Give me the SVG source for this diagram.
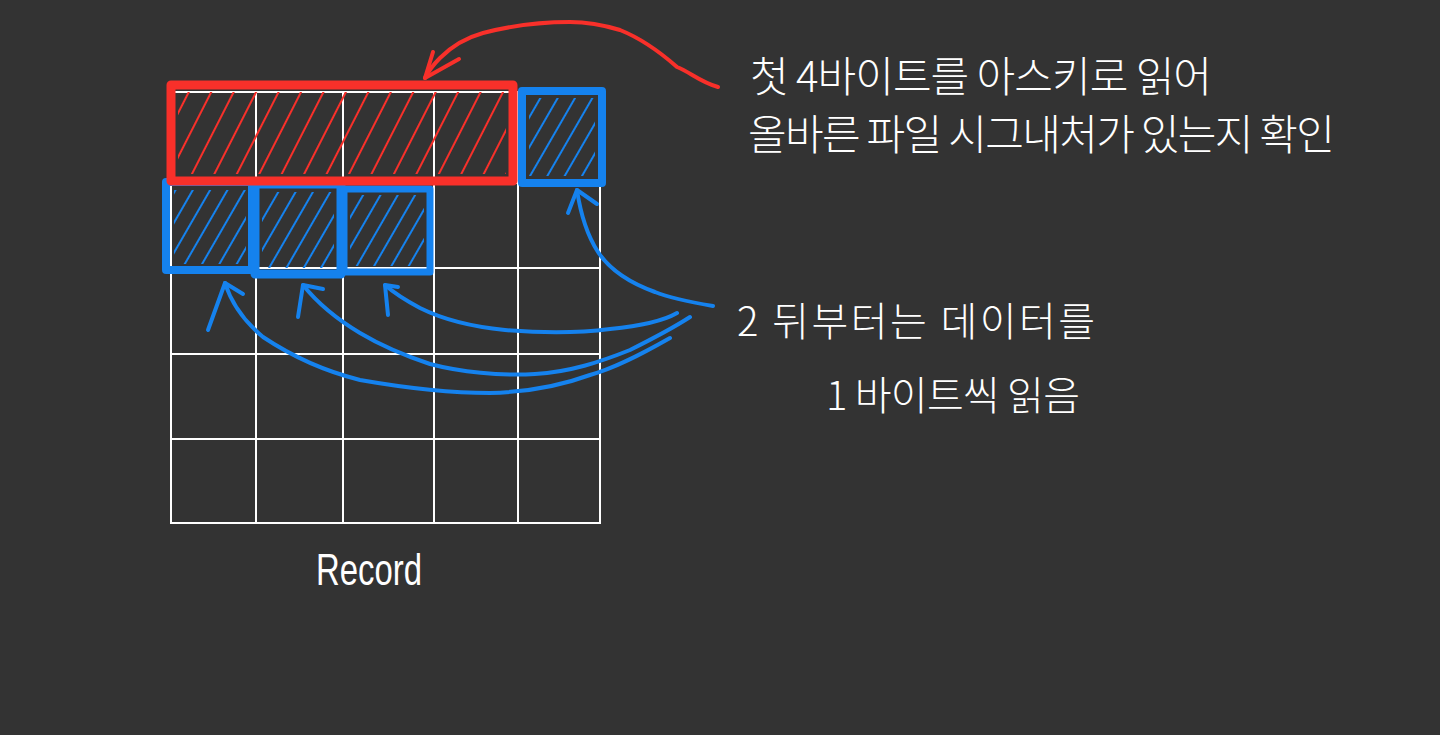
<svg xmlns="http://www.w3.org/2000/svg" width="1440" height="735" viewBox="0 0 1440 735">
<defs>
<style>
.grid{stroke:#ffffff;stroke-width:2;fill:none}
.red{stroke:#f8302a;fill:none;stroke-linecap:round;stroke-linejoin:round}
.blue{stroke:#1582ee;fill:none;stroke-linecap:round;stroke-linejoin:round}
.hr{fill:url(#hatchRed);stroke:none}
.hb{fill:url(#hatchBlue);stroke:none}
.arrow{stroke-width:4}
.txt{fill:#ffffff;font-family:"Noto Sans CJK KR","Noto Sans",sans-serif;font-weight:300}
.rec{fill:#ffffff;font-family:"Liberation Sans","DejaVu Sans",sans-serif}
</style>
<pattern id="hatchRed" patternUnits="userSpaceOnUse" width="20" height="20" patternTransform="rotate(27)">
<line x1="10" y1="0" x2="10" y2="20" stroke="#f8302a" stroke-width="2"/>
</pattern>
<pattern id="hatchBlue" patternUnits="userSpaceOnUse" width="15" height="15" patternTransform="rotate(30)">
<line x1="7" y1="0" x2="7" y2="15" stroke="#1582ee" stroke-width="2"/>
</pattern>
</defs>
<rect width="1440" height="735" fill="#333333"/>
<g id="grid" class="grid">
<rect x="171" y="92" width="429" height="431"/>
<line x1="256" y1="92" x2="256" y2="523"/>
<line x1="343" y1="92" x2="343" y2="523"/>
<line x1="434" y1="92" x2="434" y2="523"/>
<line x1="518" y1="92" x2="518" y2="523"/>
<line x1="171" y1="183" x2="600" y2="183"/>
<line x1="171" y1="268" x2="600" y2="268"/>
<line x1="171" y1="354" x2="600" y2="354"/>
<line x1="171" y1="439" x2="600" y2="439"/>
</g>
<g id="byte-boxes">
<rect class="hb" x="174" y="190" width="72" height="74"/>
<rect class="hb" x="262" y="192" width="72" height="76"/>
<rect class="hb" x="350" y="195" width="74" height="71"/>
<rect x="166" y="182" width="86" height="88" class="blue" stroke-width="8"/>
<rect x="255" y="184" width="86" height="90" class="blue" stroke-width="9"/>
<rect x="344" y="189" width="86" height="83" class="blue" stroke-width="7"/>
</g>
<g id="next-box">
<rect class="hb" x="529" y="98" width="66" height="78"/>
<rect x="522" y="91" width="80" height="92" class="blue" stroke-width="8"/>
</g>
<g id="signature-box">
<rect class="hr" x="178" y="92" width="328" height="82"/>
<rect x="171" y="85" width="342" height="96" class="red" stroke-width="9"/>
</g>
<g id="connectors">
<path class="red arrow" d="M718 87 C700 82 690 72 677 67 C660 52 640 38 620 30 C600 24 585 22 570 22 C540 22 510 26 483 33 C465 38 450 48 440 58 C432 66 428 72 425 78"/>
<path class="red arrow" d="M433 52 L425 78 L459 59"/>
<path class="blue arrow" d="M713 306 C690 302 670 298 655 292 C630 283 610 270 598 252 C585 232 580 210 577 190"/>
<path class="blue arrow" d="M568 213 L577 190 L597 204"/>
<path class="blue arrow" d="M677 313 C665 320 640 326 610 329 C580 333 540 333 505 330 C465 326 440 318 420 308 C405 300 393 292 385 285"/>
<path class="blue arrow" d="M388 315 L385 285 L398 287"/>
<path class="blue arrow" d="M690 317 C670 330 650 340 630 350 C600 362 570 372 535 374 C500 376 460 372 430 364 C400 354 380 345 360 333 C335 318 315 300 303 285"/>
<path class="blue arrow" d="M298 317 L303 285 L323 289"/>
<path class="blue arrow" d="M670 338 C640 355 615 368 590 375 C560 386 530 392 490 393 C450 393 400 387 360 380 C320 370 290 355 263 337 C245 322 232 305 225 283"/>
<path class="blue arrow" d="M208 330 L225 283 L243 294"/>
</g>
<g id="label-signature">
<text class="txt" x="750" y="92" font-size="42" textLength="462" lengthAdjust="spacing">첫 4바이트를 아스키로 읽어</text>
<text class="txt" x="748" y="150" font-size="42" textLength="587" lengthAdjust="spacing">올바른 파일 시그내처가 있는지 확인</text>
</g>
<g id="label-data">
<text class="txt" x="737" y="336" font-size="40" textLength="358" lengthAdjust="spacing">2 뒤부터는 데이터를</text>
<text class="txt" x="826" y="410" font-size="40" textLength="254" lengthAdjust="spacing">1 바이트씩 읽음</text>
</g>
<g id="label-record">
<text class="rec" x="316" y="585" font-size="44" textLength="106" lengthAdjust="spacingAndGlyphs">Record</text>
</g>
</svg>
